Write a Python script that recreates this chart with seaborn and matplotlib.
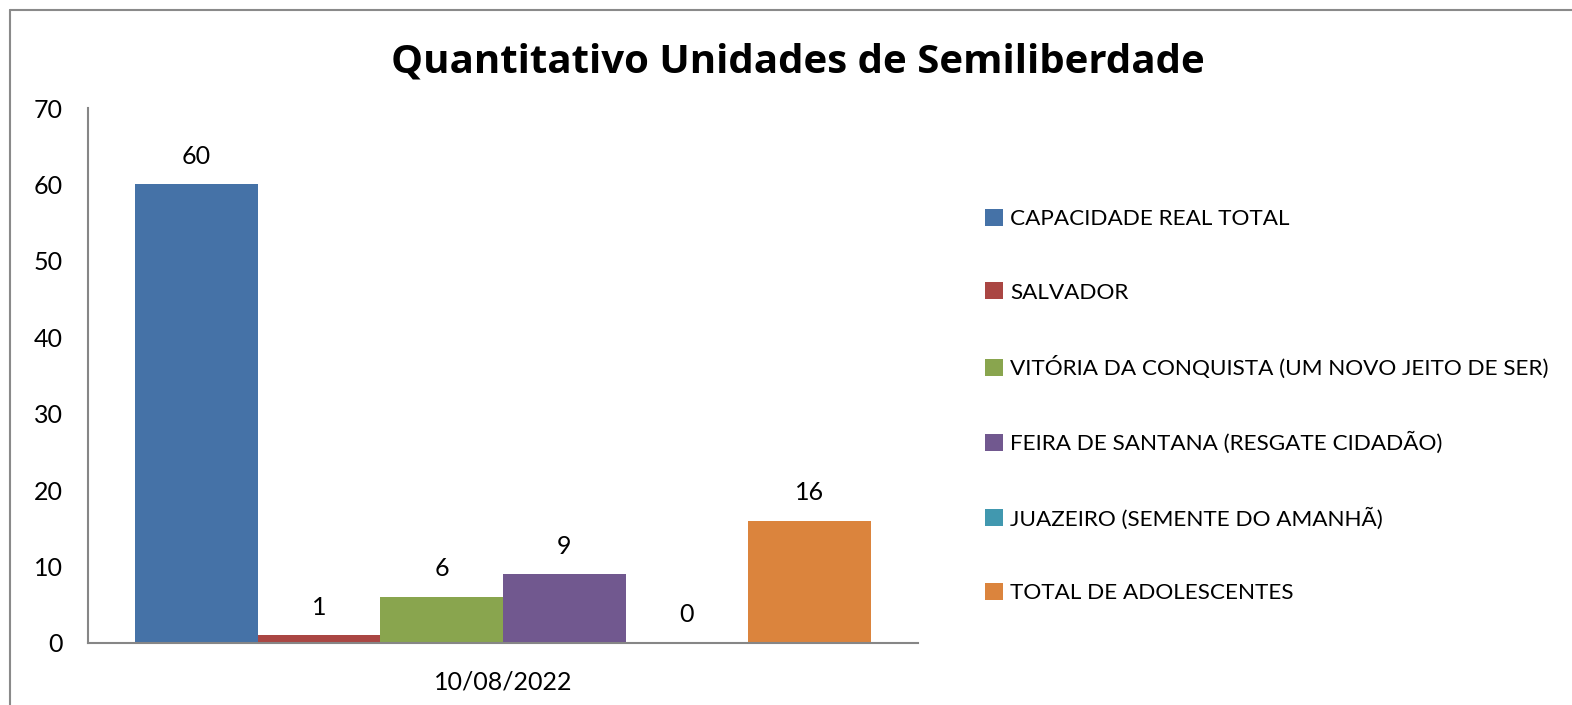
import matplotlib
matplotlib.use("Agg")
import matplotlib.pyplot as plt
from matplotlib.lines import Line2D
import pandas as pd
import seaborn as sns

# data
series = ['CAPACIDADE REAL TOTAL', 'SALVADOR',
          'VITÓRIA DA CONQUISTA (UM NOVO JEITO DE SER)',
          'FEIRA DE SANTANA (RESGATE CIDADÃO)',
          'JUAZEIRO (SEMENTE DO AMANHÃ)', 'TOTAL DE ADOLESCENTES']
values = [60, 1, 6, 9, 0, 16]
dates = ['10/08/2022'] * 6
colors = ['#4572A7', '#AA4643', '#89A54E', '#71588F', '#4198AF', '#DB843D']

df = pd.DataFrame({'date': dates, 'series': series, 'value': values})

sns.set_style('white')
plt.rcParams['font.family'] = ['Lato', 'DejaVu Sans']
plt.rcParams['text.color'] = 'black'

W, H = 1572, 705
fig = plt.figure(figsize=(W / 100, H / 100), dpi=100)
ax = fig.add_axes([88 / W, 1 - 643 / H, (918 - 88) / W, (643 - 108) / H])

sns.barplot(data=df, x='date', y='value', hue='series', palette=colors,
            width=0.886, gap=0, saturation=1, linewidth=0, ax=ax, legend=True)
ax.set_xlim(-0.5, 0.5)
ax.set_ylim(0, 70)
ax.set_yticks(range(0, 71, 10))
ax.set_xlabel('')
ax.set_ylabel('')
ax.tick_params(axis='both', length=0, labelsize=18, colors='black')
ax.tick_params(axis='y', pad=18)
ax.tick_params(axis='x', pad=20)

for s in ['top', 'right']:
    ax.spines[s].set_visible(False)
for s in ['left', 'bottom']:
    ax.spines[s].set_color('#868686')
    ax.spines[s].set_linewidth(1.5)

for cont in ax.containers:
    ax.bar_label(cont, fmt='%d', padding=12, fontsize=18)

handles, labels = ax.get_legend_handles_labels()
ax.legend(handles, labels, loc='center left', bbox_to_anchor=(976 / W, 1 - 406 / H),
          bbox_transform=fig.transFigure, frameon=False, fontsize=16.2,
          handlelength=0.78, handleheight=0.78, handletextpad=0.35,
          labelspacing=2.36, borderaxespad=0)

fig.suptitle('Quantitativo Unidades de Semiliberdade', x=798 / W, y=1 - 62 / H,
             va='center', fontsize=29, fontweight='bold', family='Open Sans',
             color='black')

# outer chart border (only top and left visible)
fig.add_artist(Line2D([9.5 / W, 1], [1 - 9.5 / H] * 2, transform=fig.transFigure,
                      color='#8a8a8a', lw=1.5))
fig.add_artist(Line2D([9.5 / W] * 2, [0, 1 - 9.5 / H], transform=fig.transFigure,
                      color='#8a8a8a', lw=1.5))

fig.savefig('out.png', dpi=100)
